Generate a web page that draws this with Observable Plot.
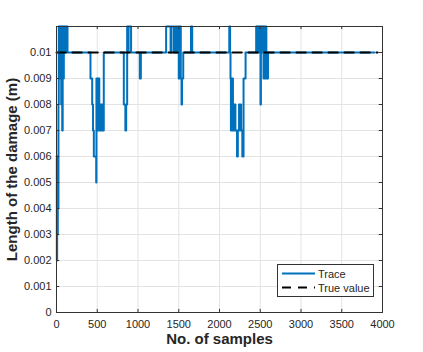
<!DOCTYPE html>
<html>
<head>
<meta charset="utf-8">
<script src="https://cdn.jsdelivr.net/npm/d3@7"></script>
<script src="https://cdn.jsdelivr.net/npm/@observablehq/plot@0.6"></script>
<style>
  html, body { margin: 0; padding: 0; background: #fff; }
  #wrap { position: relative; width: 423px; height: 352px; font-family: "Liberation Sans", Arial, sans-serif; }
  #legend { position: absolute; left: 277px; top: 264px; width: 95px; height: 31px; border: 1px solid #333; background: #fff; font-size: 11px; color: #262626; }
  #legend svg { position: absolute; left: 0; top: 0; }
</style>
</head>
<body>
<div id="wrap"></div>
<script>
// Trace: change points (sample index, estimated value in m), drawn as a step line
const traceSamples = [
  0, 4, 8, 12, 16, 20, 24, 28, 33, 38, 45, 50, 58, 64, 70, 76, 85, 90, 100, 105, 125, 130, 135,
  417, 438, 448, 458, 487, 490, 498, 505, 512, 518, 525, 532, 540, 548, 556, 564, 572, 580,
  826, 845, 855, 867, 878, 885, 895, 915,
  1022, 1035,
  1345, 1400, 1410, 1440, 1460, 1475, 1490, 1500, 1505, 1515, 1520, 1525, 1534, 1540, 1555,
  1650, 1665,
  2120, 2130, 2135, 2140, 2148, 2152, 2160, 2165, 2175, 2180, 2190, 2195, 2215, 2225, 2240, 2248, 2255, 2265, 2280, 2295, 2320,
  2450, 2458, 2462, 2470, 2474, 2482, 2486, 2494, 2498, 2503, 2508, 2516, 2520, 2528, 2532, 2540, 2545, 2555, 2558, 2565, 2575, 2580, 2595,
  3900
];
const traceValues = [
  0.006, 0.002, 0.006, 0.003, 0.006, 0.004, 0.008, 0.011, 0.009, 0.011, 0.009, 0.011, 0.008, 0.011, 0.007, 0.011, 0.009, 0.011, 0.010, 0.011, 0.010, 0.011, 0.010,
  0.009, 0.008, 0.007, 0.006, 0.005, 0.009, 0.007, 0.009, 0.007, 0.009, 0.007, 0.008, 0.007, 0.008, 0.007, 0.008, 0.007, 0.010,
  0.008, 0.007, 0.008, 0.011, 0.010, 0.011, 0.011, 0.010,
  0.009, 0.010,
  0.011, 0.010, 0.011, 0.010, 0.011, 0.010, 0.011, 0.009, 0.011, 0.009, 0.011, 0.009, 0.008, 0.009, 0.010,
  0.011, 0.010,
  0.011, 0.010, 0.009, 0.007, 0.009, 0.007, 0.009, 0.007, 0.008, 0.007, 0.008, 0.007, 0.006, 0.007, 0.008, 0.007, 0.008, 0.007, 0.006, 0.009, 0.010,
  0.011, 0.010, 0.011, 0.010, 0.011, 0.010, 0.011, 0.010, 0.011, 0.008, 0.011, 0.010, 0.011, 0.010, 0.011, 0.009, 0.011, 0.010, 0.009, 0.011, 0.010, 0.009, 0.010,
  0.010
];
// True value
const trueSamples = [0, 3940];
const trueValues = [0.01, 0.01];

const xTicks = [0, 500, 1000, 1500, 2000, 2500, 3000, 3500, 4000];
const xTickLabels = ["0", "500", "1000", "1500", "2000", "2500", "3000", "3500", "4000"];
const yTicks = [0, 0.001, 0.002, 0.003, 0.004, 0.005, 0.006, 0.007, 0.008, 0.009, 0.01];
const yTickLabels = ["0", "0.001", "0.002", "0.003", "0.004", "0.005", "0.006", "0.007", "0.008", "0.009", "0.01"];
const xLabel = "No. of samples";
const yLabel = "Length of the damage (m)";
const legendLabels = ["Trace", "True value"];

const trace = traceSamples.map((s, i) => ({x: s, y: traceValues[i]}));
const truth = trueSamples.map((s, i) => ({x: s, y: trueValues[i]}));

const blue = "#0072BD";
const axisColor = "#333";
const tickX = 40;      // inward tick length in samples
const tickY = 0.00012; // inward tick length in m

const chart = Plot.plot({
  width: 423,
  height: 352,
  marginLeft: 56,
  marginRight: 41,
  marginTop: 26,
  marginBottom: 40,
  style: {fontFamily: "'Liberation Sans', Arial, sans-serif", fontSize: "11px", background: "#fff", color: "#262626", overflow: "visible"},
  x: {domain: [0, 4000], ticks: xTicks, label: null},
  y: {domain: [0, 0.011], ticks: yTicks, label: null},
  marks: [
    Plot.gridX(xTicks, {stroke: "#e3e3e3", strokeOpacity: 1}),
    Plot.gridY(yTicks, {stroke: "#e3e3e3", strokeOpacity: 1}),
    Plot.line(trace, {x: "x", y: "y", curve: "step-after", stroke: blue, strokeWidth: 2}),
    Plot.line(truth, {x: "x", y: "y", stroke: "#000", strokeWidth: 2, strokeDasharray: "9.3,6.7"}),
    Plot.ruleX(xTicks, {y1: 0, y2: tickY, stroke: axisColor}),
    Plot.ruleX(xTicks, {y1: 0.011, y2: 0.011 - tickY, stroke: axisColor}),
    Plot.ruleY(yTicks, {x1: 0, x2: tickX, stroke: axisColor}),
    Plot.ruleY(yTicks, {x1: 4000, x2: 4000 - tickX, stroke: axisColor}),
    Plot.frame({stroke: axisColor}),
    Plot.axisX(xTicks, {tickSize: 0, tickPadding: 8, fontSize: 11, label: null, tickFormat: (d, i) => xTickLabels[i]}),
    Plot.axisY(yTicks, {tickSize: 0, tickPadding: 5, fontSize: 11, label: null, tickFormat: (d, i) => yTickLabels[i]}),
    Plot.text([xLabel], {frameAnchor: "bottom", dy: 31, fontWeight: "bold", fontSize: 15, fill: "#262626"}),
    Plot.text([yLabel], {frameAnchor: "left", textAnchor: "middle", dx: -44, rotate: -90, fontWeight: "bold", fontSize: 15, fill: "#262626"})
  ]
});

const wrap = document.getElementById("wrap");
wrap.appendChild(chart);

// Legend
const legend = document.createElement("div");
legend.id = "legend";
wrap.appendChild(legend);
const lsvg = d3.select(legend).append("svg").attr("width", 95).attr("height", 31);
lsvg.append("line").attr("x1", 4).attr("x2", 37).attr("y1", 8.5).attr("y2", 8.5)
  .attr("stroke", blue).attr("stroke-width", 2);
lsvg.append("line").attr("x1", 4).attr("x2", 37).attr("y1", 22.5).attr("y2", 22.5)
  .attr("stroke", "#000").attr("stroke-width", 2).attr("stroke-dasharray", "9,7");
lsvg.selectAll("text.l").data(legendLabels).join("text")
  .attr("x", 40).attr("y", (d, i) => 12.5 + i * 14)
  .attr("font-size", 11).attr("fill", "#262626")
  .attr("font-family", "'Liberation Sans', Arial, sans-serif")
  .text(d => d);
</script>
</body>
</html>
